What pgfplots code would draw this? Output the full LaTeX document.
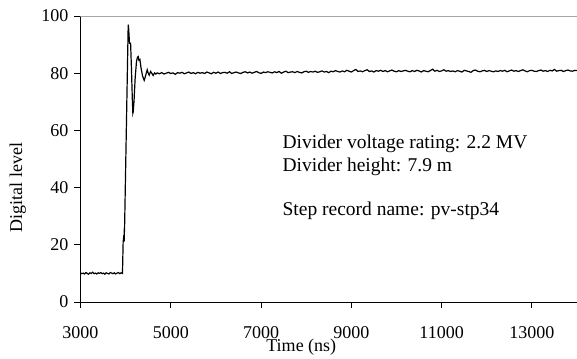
\documentclass[border=0pt]{standalone}
\usepackage{fontspec}
\setmainfont{Liberation Serif}
\usepackage{pgfplots}
\pgfplotsset{compat=1.18}
\begin{document}
\fontsize{18}{21.6}\selectfont
\begin{tikzpicture}
\begin{axis}[
 scale only axis, width=496.5pt, height=286pt,
 xmin=3000, xmax=14000, ymin=0, ymax=100,
 xtick={3000,5000,...,13000}, ytick={0,20,...,100},
 scaled x ticks=false, scaled y ticks=false,
 axis x line*=bottom, axis y line*=left,
 axis line style={-, line width=1pt, black},
 tick align=outside, major tick length=6pt,
 tick style={black, line width=0.8pt},
 /pgf/number format/assume math mode=true,
 /pgf/number format/1000 sep={},
 /pgf/number format/fixed,
 xlabel={Time (ns)}, ylabel={Digital level},
 xlabel style={at={(axis description cs:0.4447,-0.1748)}, anchor=base},
 ylabel style={at={(axis description cs:-0.126,0.40)}, anchor=center},
 x tick label style={yshift=-12pt},
]
\addplot[black, line width=1.2pt, mark=none] coordinates {
(3000,10.2)(3030,9.9)(3060,10.1)(3090,9.8)(3120,10.3)(3150,10.0)(3180,9.7)(3210,10.2)(3240,10.0)(3270,10.4)
(3300,9.9)(3330,10.1)(3360,9.8)(3390,10.2)(3420,10.0)(3450,10.3)(3480,9.9)(3510,10.1)(3540,9.7)(3570,10.2)
(3600,10.0)(3630,9.8)(3660,10.3)(3690,10.1)(3720,9.9)(3750,10.2)(3780,9.8)(3810,10.1)(3840,10.3)(3870,9.9)
(3900,10.2)(3930,10.0)
(3945,21)(3955,22.5)(3968,22)(3972,26)(3975,24.5)
(4057,97)(4065,96)(4075,93.5)(4085,90.5)(4110,90.5)(4130,81)(4150,70)(4160,66)(4168,66.5)(4185,70)
(4210,78)(4240,84)(4260,85.5)(4279,85.8)(4295,84.5)(4316,84.8)(4340,82)(4375,79)(4411,77.5)(4440,79)
(4478,81.2)(4500,80)(4522,79.3)(4553,80.6)(4580,80.0)(4610,79.2)(4640,80.1)(4670,79.7)
(4700,80.1)(4750,79.8)(4800,80.2)(4850,79.7)(4900,80.0)(4950,80.3)(5000,79.9)(5050,80.1)(5100,79.6)(5150,80.2)
(5200,80.0)(5250,80.3)(5300,79.8)(5350,80.1)(5400,80.4)(5450,79.9)(5500,80.2)(5550,79.8)(5600,80.3)(5650,80.0)
(5700,80.2)(5750,79.9)(5800,80.4)(5850,80.1)(5900,79.8)(5950,80.3)(6000,80.0)(6050,80.4)(6100,79.9)(6150,80.2)
(6200,80.3)(6250,80.0)(6300,80.5)(6350,79.9)(6400,80.2)(6450,80.4)(6500,80.1)(6550,79.9)(6600,80.3)(6650,80.5)
(6700,80.1)(6750,80.4)(6800,80.0)(6850,80.3)(6900,80.6)(6950,80.2)(7000,79.9)(7050,80.4)(7100,80.2)(7150,80.5)
(7200,80.3)(7250,80.1)(7300,80.5)(7350,80.2)(7400,80.6)(7450,80.0)(7500,80.4)(7550,80.7)(7600,80.2)(7650,80.4)
(7700,80.5)(7750,80.2)(7800,80.6)(7850,80.3)(7900,80.1)(7950,80.5)(8000,80.7)(8050,80.3)(8100,80.6)(8150,80.4)
(8200,80.7)(8250,80.3)(8300,80.5)(8350,80.8)(8400,80.4)(8450,80.6)(8500,80.2)(8550,80.7)(8600,80.5)(8650,80.9)
(8700,80.6)(8750,80.4)(8800,80.8)(8850,80.5)(8900,81.0)(8950,80.7)(9000,80.4)(9050,80.9)(9100,81.3)(9150,80.6)
(9200,80.8)(9250,80.5)(9300,80.9)(9350,81.2)(9400,80.6)(9450,80.8)(9500,80.4)(9550,80.9)(9600,80.7)(9650,81.0)
(9700,80.6)(9750,80.9)(9800,80.5)(9850,80.8)(9900,81.1)(9950,80.7)(10000,80.5)(10050,80.9)(10100,80.6)(10150,80.8)
(10200,81.0)(10250,80.7)(10300,80.5)(10350,80.9)(10400,80.6)(10450,81.0)(10500,80.8)(10550,80.4)(10600,80.9)(10650,80.7)
(10700,80.5)(10750,80.9)(10800,81.4)(10850,80.7)(10900,81.0)(10950,80.6)(11000,80.8)(11050,81.2)(11100,80.7)(11150,80.9)
(11200,80.6)(11250,80.8)(11300,80.5)(11350,80.9)(11400,80.7)(11450,80.4)(11500,81.0)(11550,80.8)(11600,80.6)(11650,80.3)
(11700,80.9)(11750,81.1)(11800,80.7)(11850,80.5)(11900,80.8)(11950,81.0)(12000,80.6)(12050,80.9)(12100,80.7)(12150,80.5)
(12200,80.8)(12250,80.6)(12300,80.9)(12350,80.7)(12400,81.0)(12450,80.5)(12500,80.8)(12550,81.1)(12600,80.7)(12650,80.9)
(12700,80.6)(12750,80.9)(12800,81.2)(12850,80.8)(12900,80.5)(12950,80.9)(13000,81.0)(13050,80.7)(13100,80.6)(13150,80.9)
(13200,81.1)(13250,80.7)(13300,80.9)(13350,80.6)(13400,81.0)(13450,80.8)(13500,81.3)(13550,80.7)(13600,80.9)(13650,81.0)
(13700,80.6)(13750,80.9)(13800,81.1)(13850,80.8)(13900,80.7)(13950,81.0)(14000,80.9)
};
\draw[gray!70, line width=0.8pt] (rel axis cs:0,1) -- (rel axis cs:1,1);
\node[anchor=base west, inner sep=0pt, font=\fontsize{19.5}{23}\selectfont] at (axis cs:7473,53.5) {Divider voltage rating: 2.2 MV};
\node[anchor=base west, inner sep=0pt, font=\fontsize{19.5}{23}\selectfont] at (axis cs:7473,45.5) {Divider height: 7.9 m};
\node[anchor=base west, inner sep=0pt, font=\fontsize{19.5}{23}\selectfont] at (axis cs:7473,30.4) {Step record name: pv-stp34};
\end{axis}
\pgfresetboundingbox
\path (-80.5pt,-56pt) rectangle (496.5pt,302pt);
\end{tikzpicture}
\end{document}
